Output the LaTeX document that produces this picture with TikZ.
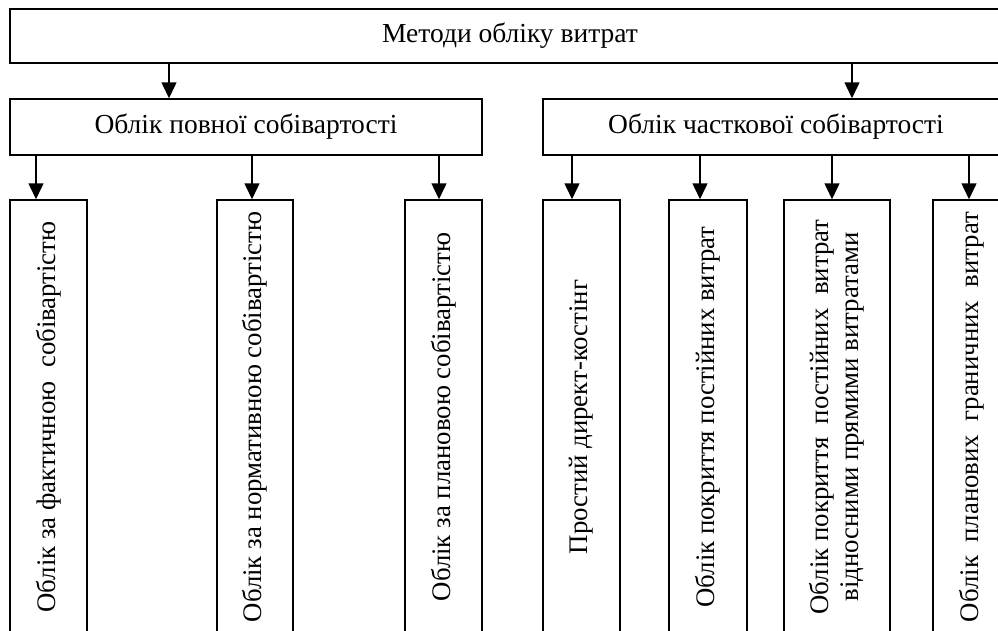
\documentclass[tikz,border=0pt]{standalone}
\usepackage{fontspec}
\setmainfont{Liberation Serif}
\usetikzlibrary{arrows.meta}

\tikzset{
  box/.style={draw, line width=1.5pt, inner sep=0pt},
  arr/.style={line width=1.5pt, -{Triangle[width=15pt,length=16pt]}},
}

\begin{document}
\begin{tikzpicture}[x=1pt,y=-1pt,font=\fontsize{27.5}{31}\selectfont]
\useasboundingbox (0,0) rectangle (998,630);
\clip (0,0) rectangle (998,630);

% top level
\node[box, minimum width=1000pt, minimum height=54pt] (metody) at (510,36) {Методи обліку витрат};

% second level
\node[box, minimum width=472pt, minimum height=56pt] (povna) at (246,127) {Облік повної собівартості};
\node[box, minimum width=466pt, minimum height=56pt] (chast) at (776,127) {Облік часткової собівартості};
\draw[arr] (metody.south -| 169,0) -- (povna.north -| 169,0);
\draw[arr] (metody.south -| 852,0) -- (chast.north -| 852,0);

% third level
\foreach \name/\x/\w/\ax/\up/\txt in {
  fakt/48.5/77/36/povna/{Облік за фактичною \ собівартістю},
  norm/255/76/252/povna/{Облік за нормативною собівартістю},
  plan/443.5/77/439/povna/{Облік за плановою собівартістю},
  direkt/581.5/77/572/chast/{Простий директ-костінг},
  pokr/708/78/700/chast/{Облік покриття постійних витрат},
  pryami/837/106/832/chast/{Облік покриття \ постійних \ витрат\\ відносними прямими витратами},
  hran/972/78/969/chast/{Облік \ планових \ граничних \ витрат}}
{
  \node[box, minimum width=\w pt, minimum height=434pt] (\name) at (\x,417) {};
  \node[rotate=90, align=center, font=\fontsize{26.8}{30}\selectfont] (\name-t) at (\name) {\txt};
  \draw[arr] (\up.south -| \ax,0) -- (\name.north -| \ax,0);
}
\end{tikzpicture}
\end{document}
